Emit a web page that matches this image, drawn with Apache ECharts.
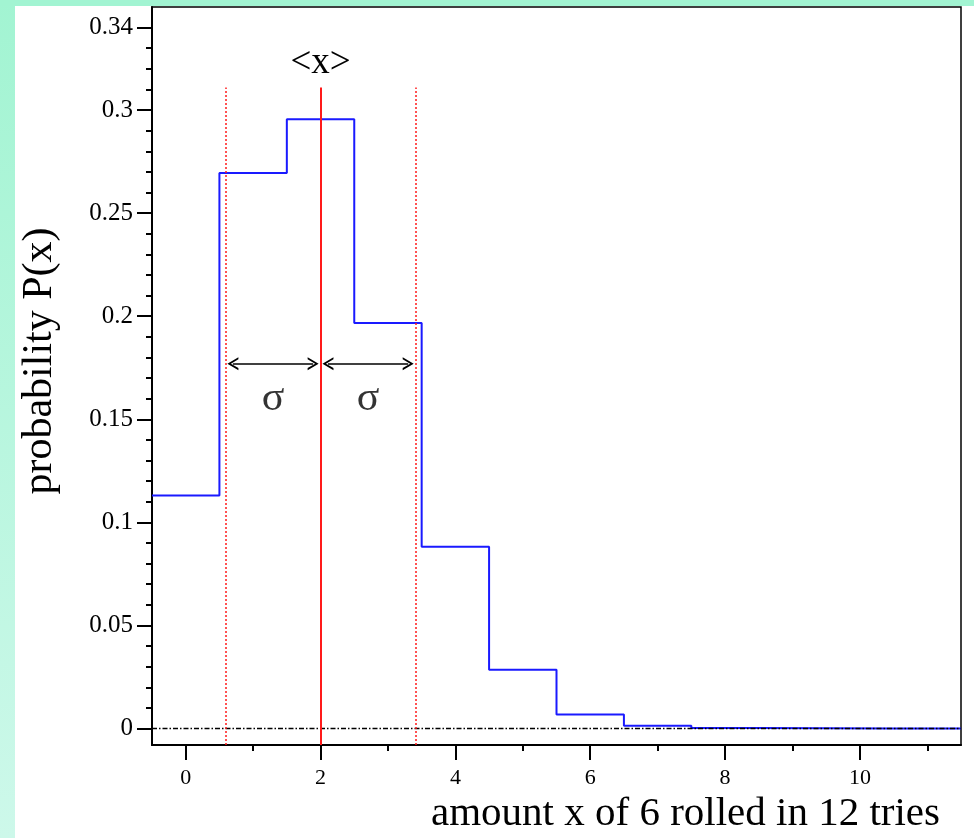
<!DOCTYPE html>
<html>
<head>
<meta charset="utf-8">
<script src="https://cdn.jsdelivr.net/npm/echarts@6/dist/echarts.min.js"></script>
<style>
  html, body { margin: 0; padding: 0; background: #fff; }
  #chart { width: 974px; height: 838px; }
</style>
</head>
<body>
<div id="chart"></div>
<script>
// amount x (number of sixes) and the read-off probability for each
const amounts = [0, 1, 2, 3, 4, 5, 6, 7, 8, 9, 10, 11];
const probabilities = [0.113, 0.2695, 0.2955, 0.1967, 0.0882, 0.0285, 0.0068, 0.0013, 0.0002, 0.0001, 0, 0];

// mean and spread markers
const meanX = 2;
const sigmaX = 1.41;
const markerTop = 0.311;
const arrowY = 0.177;
const arrowGap = 0.11;
const sigmaLabelY = 0.160;

// axes
const xRange = [-0.5, 11.5];
const yRange = [-0.008, 0.35];
const xTickValues = [0, 2, 4, 6, 8, 10];
const xMinorTickValues = [1, 3, 5, 7, 9, 11];
const yTickValues = [0, 0.05, 0.1, 0.15, 0.2, 0.25, 0.3, 0.34];
const yMinorTickValues = [];
for (let i = 0; i <= 34; i++) {
  yMinorTickValues.push(i / 100);
}

const xTitle = "amount x of 6 rolled in 12 tries";
const yTitle = "probability P(x)";

const serif = "Liberation Serif";
const chevron = "path://M0,10 L5,0 L10,10 L8.4,10 L5,3.2 L1.6,10 Z";

// histogram outline: one point on the left edge of each bin, plus the far right edge
const stepData = amounts.map((x, i) => [x - 0.5, probabilities[i]]);
stepData.push([amounts[amounts.length - 1] + 0.5, probabilities[probabilities.length - 1]]);

const chart = echarts.init(document.getElementById("chart"));

const option = {
  backgroundColor: "#fff",
  animation: false,
  graphic: [
    {
      type: "rect",
      z: -10,
      shape: { x: 0, y: 0, width: 15, height: 838 },
      style: {
        fill: new echarts.graphic.LinearGradient(0, 0, 0, 1, [
          { offset: 0, color: "#a2f4d2" },
          { offset: 1, color: "#cdf8ea" },
        ]),
      },
    },
    {
      type: "rect",
      z: -10,
      shape: { x: 0, y: 0, width: 974, height: 6 },
      style: { fill: "#a2f4d2" },
    },
    {
      type: "text",
      x: 940,
      y: 835,
      style: {
        text: xTitle,
        font: "41px " + serif,
        fill: "#000",
        align: "right",
        verticalAlign: "bottom",
      },
    },
    {
      type: "text",
      x: 40,
      y: 361,
      rotation: Math.PI / 2,
      style: {
        text: yTitle,
        font: "42px " + serif,
        fill: "#000",
        align: "center",
        verticalAlign: "middle",
      },
    },
  ],
  grid: {
    left: 152,
    top: 7,
    right: 13,
    bottom: 93,
    show: true,
    borderColor: "#000",
    borderWidth: 1.5,
  },
  xAxis: [
    {
      type: "value",
      min: xRange[0],
      max: xRange[1],
      axisLine: { onZero: false, lineStyle: { color: "#000", width: 2 } },
      axisTick: {
        customValues: xTickValues,
        length: 15,
        lineStyle: { color: "#000", width: 2 },
      },
      axisLabel: {
        customValues: xTickValues,
        margin: 22,
        fontFamily: serif,
        fontSize: 22,
        color: "#000",
      },
      splitLine: { show: false },
    },
    {
      type: "value",
      position: "bottom",
      min: xRange[0],
      max: xRange[1],
      axisLine: { show: false, onZero: false },
      axisTick: {
        customValues: xMinorTickValues,
        length: 6,
        lineStyle: { color: "#000", width: 2 },
      },
      axisLabel: { show: false },
      splitLine: { show: false },
    },
  ],
  yAxis: [
    {
      type: "value",
      min: yRange[0],
      max: yRange[1],
      axisLine: { show: true, onZero: false, lineStyle: { color: "#000", width: 2 } },
      axisTick: {
        show: true,
        customValues: yTickValues,
        length: 15,
        lineStyle: { color: "#000", width: 2 },
      },
      axisLabel: {
        customValues: yTickValues,
        margin: 19,
        fontFamily: serif,
        fontSize: 25,
        color: "#000",
        formatter: (v) => String(+v.toFixed(2)),
      },
      splitLine: { show: false },
    },
    {
      type: "value",
      position: "left",
      min: yRange[0],
      max: yRange[1],
      axisLine: { show: false, onZero: false },
      axisTick: {
        show: true,
        customValues: yMinorTickValues,
        length: 6,
        lineStyle: { color: "#000", width: 2 },
      },
      axisLabel: { show: false },
      splitLine: { show: false },
    },
  ],
  series: [
    {
      name: "zero",
      type: "line",
      data: [],
      markLine: {
        silent: true,
        symbol: "none",
        label: { show: false },
        lineStyle: { color: "#000", width: 1.3, type: [5, 2, 1.5, 2] },
        data: [{ yAxis: 0 }],
      },
    },
    {
      name: "P(x)",
      type: "line",
      step: "end",
      data: stepData,
      symbol: "none",
      lineStyle: { color: "#1a1aff", width: 2 },
    },
    {
      name: "sigma",
      type: "line",
      data: [],
      markLine: {
        silent: true,
        symbol: "none",
        label: { show: false },
        lineStyle: { color: "#ff1a1a", width: 1.5, type: [2, 2] },
        data: [
          [{ coord: [meanX - sigmaX, yRange[0]] }, { coord: [meanX - sigmaX, markerTop] }],
          [{ coord: [meanX + sigmaX, yRange[0]] }, { coord: [meanX + sigmaX, markerTop] }],
        ],
      },
    },
    {
      name: "mean",
      type: "line",
      data: [],
      markLine: {
        silent: true,
        symbol: "none",
        lineStyle: { color: "#ff1a1a", width: 2, type: "solid" },
        label: {
          show: true,
          position: "end",
          formatter: "<x>",
          distance: 6,
          fontFamily: serif,
          fontSize: 37,
          color: "#000",
        },
        data: [[{ coord: [meanX, yRange[0]] }, { coord: [meanX, markerTop] }]],
      },
    },
    {
      name: "arrows",
      type: "line",
      data: [],
      markLine: {
        silent: true,
        symbol: [chevron, chevron],
        symbolSize: [13, 11],
        label: { show: false },
        lineStyle: { color: "#000", width: 1.5, type: "solid" },
        data: [
          [{ coord: [meanX - sigmaX + arrowGap, arrowY] }, { coord: [meanX - arrowGap, arrowY] }],
          [{ coord: [meanX + arrowGap, arrowY] }, { coord: [meanX + sigmaX - arrowGap, arrowY] }],
        ],
      },
    },
    {
      name: "sigmaLabels",
      type: "scatter",
      symbolSize: 1,
      itemStyle: { color: "rgba(0,0,0,0)" },
      data: [
        [meanX - sigmaX / 2, sigmaLabelY],
        [meanX + sigmaX / 2, sigmaLabelY],
      ],
      label: {
        show: true,
        position: "inside",
        formatter: "σ",
        fontFamily: serif,
        fontSize: 42,
        color: "#000",
      },
    },
  ],
};

chart.setOption(option);
</script>
</body>
</html>
